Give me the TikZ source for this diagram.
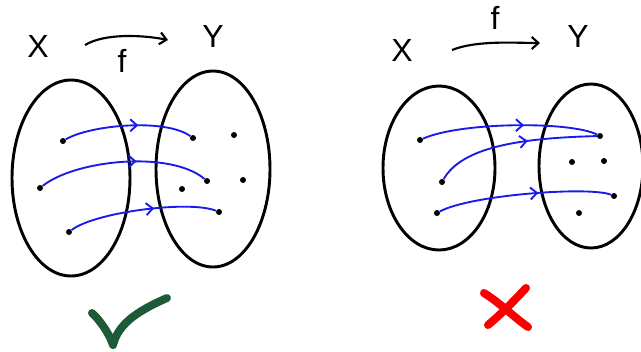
\documentclass[tikz,border=0pt]{standalone}
\usepackage{fontspec}
\setmainfont{Liberation Sans}
\usetikzlibrary{arrows.meta, decorations.markings}
\definecolor{penblue}{RGB}{25,25,235}
\definecolor{okgreen}{RGB}{29,91,56}
\definecolor{nored}{RGB}{250,0,0}

\begin{document}
\begin{tikzpicture}[
  x=0.75pt, y=-0.75pt,
  set/.style={draw, line width=2.2pt},
  dot/.style={circle, fill, inner sep=0pt, minimum size=4.5pt},
  lbl/.style={font=\fontsize{24}{28}\selectfont, inner sep=0pt},
  fmap/.style={line width=1.6pt, -{Straight Barb[length=5pt, width=9pt]}},
  maparrow/.style={penblue, line width=1.4pt, postaction={decorate},
    decoration={markings, mark=at position 0.58 with {\arrow{Straight Barb[length=5pt, width=9pt]}}}},
  verdict/.style={line width=6pt, line cap=round, line join=round}
]
\clip (0,0) rectangle (641,351);

% good map
\node[lbl] (X1) at (38,46) {X};
\node[lbl] (Y1) at (213,36) {Y};
\node[lbl] (f1) at (122,61) {f};
\coordinate (f1s) at (85,45);
\coordinate (f1e) at (168,40);
\draw[fmap] (f1s) .. controls +(20,-12) and +(-25,-5) .. (f1e);

\draw[set] (71,178) ellipse (59 and 98);
\draw[set] (213,169) ellipse (57 and 98);

\node[dot] (a1) at (63,141) {};
\node[dot] (a2) at (40,188) {};
\node[dot] (a3) at (69,232) {};
\node[dot] (b1) at (193,138) {};
\node[dot] (b2) at (234,135) {};
\node[dot] (b3) at (207,181) {};
\node[dot] (b4) at (243,180) {};
\node[dot] (b5) at (182,189) {};
\node[dot] (b6) at (219,212) {};

\draw[maparrow] (a1) .. controls +(27,-16) and +(-28,-20) .. (b1);
\draw[maparrow] (a2) .. controls +(35,-28) and +(-37,-31) .. (b3);
\draw[maparrow] (a3) .. controls +(26,-20) and +(-29,-12) .. (b6);

% not a map
\node[lbl] (X2) at (402,50) {X};
\node[lbl] (Y2) at (578,36) {Y};
\node[lbl] (f2) at (495,18) {f};
\coordinate (f2s) at (452,50);
\coordinate (f2e) at (540,43);
\draw[fmap] (f2s) .. controls +(25,-10) and +(-25,0) .. (f2e);

\draw[set] (439,168) ellipse (56 and 82);
\draw[set] (591,166) ellipse (52 and 82);

\node[dot] (c1) at (420,140) {};
\node[dot] (c2) at (442,182) {};
\node[dot] (c3) at (437,213) {};
\node[dot] (d1) at (600,136) {};
\node[dot] (d2) at (572,162) {};
\node[dot] (d3) at (604,161) {};
\node[dot] (d4) at (614,196) {};
\node[dot] (d5) at (579,213) {};

\draw[maparrow] (c1) .. controls +(40,-18) and +(-30,-15) .. (d1);
\draw[maparrow] (c2) .. controls +(20,-35) and +(-80,2) .. (d1);
\draw[maparrow] (c3) .. controls +(33,-18) and +(-24,-10) .. (d4);

% verdicts
\draw[verdict, okgreen] (92,313) .. controls (100,320) and (110,335) .. (113,345)
  .. controls (118,325) and (135,312) .. (167,298);
\draw[verdict, nored] (484,293) .. controls (500,303) and (515,318) .. (528,327);
\draw[verdict, nored] (526,288) .. controls (512,303) and (500,315) .. (488,325);
\end{tikzpicture}
\end{document}
